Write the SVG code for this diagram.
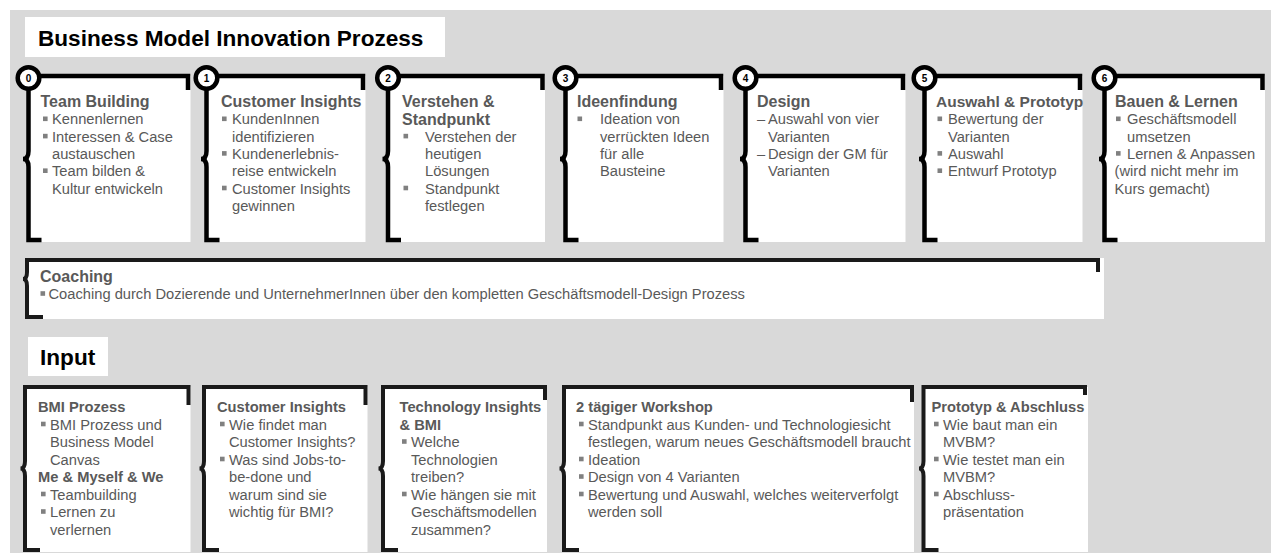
<svg xmlns="http://www.w3.org/2000/svg" width="1271" height="560" viewBox="0 0 1271 560">
<style>
.bg{fill:#d9d9d9}
.card{fill:#ffffff}
.frame{fill:none;stroke:#000;stroke-width:4.5;stroke-linejoin:miter;stroke-linecap:butt}
.frame2{fill:none;stroke:#1a1a1a;stroke-width:4;stroke-linejoin:miter;stroke-linecap:butt}
.ring{fill:#fff;stroke:#000;stroke-width:4.5}
.num{font-family:"Liberation Sans",Arial,sans-serif;font-weight:bold;font-size:10px;fill:#000;text-anchor:middle}
.big{font-family:"Liberation Sans",Arial,sans-serif;font-weight:bold;font-size:22.6px;fill:#000}
.h{font-family:"Liberation Sans",Arial,sans-serif;font-weight:bold;font-size:16px;fill:#595959}
.h2{font-family:"Liberation Sans",Arial,sans-serif;font-weight:bold;font-size:14.7px;fill:#595959}
.b{font-family:"Liberation Sans",Arial,sans-serif;font-size:14.7px;fill:#595959}
.bul{fill:#808080}
</style>
<rect class="bg" x="10" y="10" width="1261" height="543"/>
<g id="title">
<rect class="card" x="25" y="17" width="420" height="40"/>
<text class="big" x="38" y="46">Business Model Innovation Prozess</text>
</g>
<g id="connectors"></g>

<g id="step0">
<rect class="card" x="28.5" y="76" width="162" height="166"/>
<path class="frame" d="M41.5 240 H28.5 V167 Q28.5 159 23 159 Q28.5 159 28.5 151 V76 H188 V90"/>
<circle class="ring" cx="28.5" cy="78" r="10.8"/>
<text class="num" x="28.5" y="81.5">0</text>
<text class="h" x="40.5" y="107">Team Building</text>
<rect class="bul" x="43" y="116.5" width="4.6" height="4.6"/><text class="b" x="52" y="124.3">Kennenlernen</text>
<rect class="bul" x="43" y="133.8" width="4.6" height="4.6"/><text class="b" x="52" y="141.6">Interessen &amp; Case</text>
<text class="b" x="52" y="158.9">austauschen</text>
<rect class="bul" x="43" y="168.4" width="4.6" height="4.6"/><text class="b" x="52" y="176.2">Team bilden &amp;</text>
<text class="b" x="52" y="193.5">Kultur entwickeln</text>
</g>

<g id="step1">
<rect class="card" x="206.5" y="76" width="159" height="166"/>
<path class="frame" d="M219.5 240 H206.5 V167 Q206.5 159 201 159 Q206.5 159 206.5 151 V76 H363 V90"/>
<circle class="ring" cx="206.5" cy="78" r="10.8"/>
<text class="num" x="206.5" y="81.5">1</text>
<text class="h" x="221" y="107">Customer Insights</text>
<rect class="bul" x="222" y="116.5" width="4.6" height="4.6"/><text class="b" x="232" y="124.3">KundenInnen</text>
<text class="b" x="232" y="141.6">identifizieren</text>
<rect class="bul" x="222" y="151.1" width="4.6" height="4.6"/><text class="b" x="232" y="158.9">Kundenerlebnis-</text>
<text class="b" x="232" y="176.2">reise entwickeln</text>
<rect class="bul" x="222" y="185.7" width="4.6" height="4.6"/><text class="b" x="232" y="193.5">Customer Insights</text>
<text class="b" x="232" y="210.8">gewinnen</text>
</g>

<g id="step2">
<rect class="card" x="388" y="76" width="157" height="166"/>
<path class="frame" d="M401 240 H388 V167 Q388 159 382.5 159 Q388 159 388 151 V76 H542.5 V90"/>
<circle class="ring" cx="388" cy="78" r="10.8"/>
<text class="num" x="388" y="81.5">2</text>
<text class="h" x="402" y="107">Verstehen &amp;</text>
<text class="h" x="402" y="124.8">Standpunkt</text>
<rect class="bul" x="403.5" y="133.8" width="4.6" height="4.6"/><text class="b" x="425" y="141.6">Verstehen der</text>
<text class="b" x="425" y="158.9">heutigen</text>
<text class="b" x="425" y="176.2">Lösungen</text>
<rect class="bul" x="403.5" y="185.7" width="4.6" height="4.6"/><text class="b" x="425" y="193.5">Standpunkt</text>
<text class="b" x="425" y="210.8">festlegen</text>
</g>

<g id="step3">
<rect class="card" x="565.5" y="76" width="158" height="166"/>
<path class="frame" d="M578.5 240 H565.5 V167 Q565.5 159 560 159 Q565.5 159 565.5 151 V76 H721 V90"/>
<circle class="ring" cx="565.5" cy="78" r="10.8"/>
<text class="num" x="565.5" y="81.5">3</text>
<text class="h" x="577" y="107">Ideenfindung</text>
<rect class="bul" x="577.5" y="116.5" width="4.6" height="4.6"/><text class="b" x="600" y="124.3">Ideation von</text>
<text class="b" x="600" y="141.6">verrückten Ideen</text>
<text class="b" x="600" y="158.9">für alle</text>
<text class="b" x="600" y="176.2">Bausteine</text>
</g>

<g id="step4">
<rect class="card" x="745.5" y="76" width="160" height="166"/>
<path class="frame" d="M758.5 240 H745.5 V167 Q745.5 159 740 159 Q745.5 159 745.5 151 V76 H903 V90"/>
<circle class="ring" cx="745.5" cy="78" r="10.8"/>
<text class="num" x="745.5" y="81.5">4</text>
<text class="h" x="757" y="107">Design</text>
<text class="b" x="757" y="124.3">–</text><text class="b" x="768" y="124.3">Auswahl von vier</text>
<text class="b" x="768" y="141.6">Varianten</text>
<text class="b" x="757" y="158.9">–</text><text class="b" x="768" y="158.9">Design der GM für</text>
<text class="b" x="768" y="176.2">Varianten</text>
</g>

<g id="step5">
<rect class="card" x="924.5" y="76" width="158" height="166"/>
<path class="frame" d="M937.5 240 H924.5 V167 Q924.5 159 919 159 Q924.5 159 924.5 151 V76 H1080 V90"/>
<circle class="ring" cx="924.5" cy="78" r="10.8"/>
<text class="num" x="924.5" y="81.5">5</text>
<text class="h" x="936" y="107" style="font-size:15.5px">Auswahl &amp; Prototyp</text>
<rect class="bul" x="937.5" y="116.5" width="4.6" height="4.6"/><text class="b" x="948" y="124.3">Bewertung der</text>
<text class="b" x="948" y="141.6">Varianten</text>
<rect class="bul" x="937.5" y="151.1" width="4.6" height="4.6"/><text class="b" x="948" y="158.9">Auswahl</text>
<rect class="bul" x="937.5" y="168.4" width="4.6" height="4.6"/><text class="b" x="948" y="176.2">Entwurf Prototyp</text>
</g>

<g id="step6">
<rect class="card" x="1104.5" y="76" width="160.5" height="166"/>
<path class="frame" d="M1117.5 240 H1104.5 V167 Q1104.5 159 1099 159 Q1104.5 159 1104.5 151 V76 H1262.5 V90"/>
<circle class="ring" cx="1104.5" cy="78" r="10.8"/>
<text class="num" x="1104.5" y="81.5">6</text>
<text class="h" x="1115" y="107">Bauen &amp; Lernen</text>
<rect class="bul" x="1116" y="116.5" width="4.6" height="4.6"/><text class="b" x="1127" y="124.3">Geschäftsmodell</text>
<text class="b" x="1127" y="141.6">umsetzen</text>
<rect class="bul" x="1116" y="151.1" width="4.6" height="4.6"/><text class="b" x="1127" y="158.9">Lernen &amp; Anpassen</text>
<text class="b" x="1114.5" y="176.2">(wird nicht mehr im</text>
<text class="b" x="1114.5" y="193.5">Kurs gemacht)</text>
</g>

<g id="coaching">
<rect class="card" x="25" y="258" width="1079" height="61"/>
<path class="frame2" d="M43 317 H27 V286 Q27 279 23 279 Q27 279 27 272 V260 H1098 V272"/>
<text class="h" x="40" y="282">Coaching</text>
<rect class="bul" x="40.5" y="291.2" width="4.6" height="4.6"/><text class="b" x="48.5" y="299">Coaching durch Dozierende und UnternehmerInnen über den kompletten Geschäftsmodell-Design Prozess</text>
</g>

<g id="input-title">
<rect class="card" x="28" y="337" width="80" height="39"/>
<text class="big" x="40" y="365">Input</text>
</g>

<g id="inputA">
<rect class="card" x="25" y="387" width="165.5" height="165"/>
<path class="frame2" d="M40 550 H25 V476 Q25 468.5 20.5 468.5 Q25 468.5 25 461 V387 H188.5 V405"/>
<text class="h2" x="38" y="412">BMI Prozess</text>
<rect class="bul" x="41" y="421.7" width="4.6" height="4.6"/><text class="b" x="50" y="429.5">BMI Prozess und</text>
<text class="b" x="50" y="447">Business Model</text>
<text class="b" x="50" y="464.5">Canvas</text>
<text class="h2" x="38" y="482">Me &amp; Myself &amp; We</text>
<rect class="bul" x="41" y="491.7" width="4.6" height="4.6"/><text class="b" x="50" y="499.5">Teambuilding</text>
<rect class="bul" x="41" y="509.2" width="4.6" height="4.6"/><text class="b" x="50" y="517">Lernen zu</text>
<text class="b" x="50" y="534.5">verlernen</text>
</g>

<g id="inputB">
<rect class="card" x="204" y="387" width="163.5" height="165"/>
<path class="frame2" d="M219 550 H204 V476 Q204 468.5 199.5 468.5 Q204 468.5 204 461 V387 H365.5 V405"/>
<text class="h2" x="217" y="412">Customer Insights</text>
<rect class="bul" x="220" y="421.7" width="4.6" height="4.6"/><text class="b" x="229" y="429.5">Wie findet man</text>
<text class="b" x="229" y="447">Customer Insights?</text>
<rect class="bul" x="220" y="456.7" width="4.6" height="4.6"/><text class="b" x="229" y="464.5">Was sind Jobs-to-</text>
<text class="b" x="229" y="482">be-done und</text>
<text class="b" x="229" y="499.5">warum sind sie</text>
<text class="b" x="229" y="517">wichtig für BMI?</text>
</g>

<g id="inputC">
<rect class="card" x="383" y="387" width="164" height="165"/>
<path class="frame2" d="M398 550 H383 V476 Q383 468.5 378.5 468.5 Q383 468.5 383 461 V387 H545 V400"/>
<text class="h2" x="399.5" y="412">Technology Insights</text>
<text class="h2" x="399.5" y="429.5">&amp; BMI</text>
<rect class="bul" x="402" y="439.2" width="4.6" height="4.6"/><text class="b" x="411" y="447">Welche</text>
<text class="b" x="411" y="464.5">Technologien</text>
<text class="b" x="411" y="482">treiben?</text>
<rect class="bul" x="402" y="491.7" width="4.6" height="4.6"/><text class="b" x="411" y="499.5">Wie hängen sie mit</text>
<text class="b" x="411" y="517">Geschäftsmodellen</text>
<text class="b" x="411" y="534.5">zusammen?</text>
</g>

<g id="inputD">
<rect class="card" x="564" y="387" width="350" height="165"/>
<path class="frame2" d="M579 550 H564 V476 Q564 468.5 559.5 468.5 Q564 468.5 564 461 V387 H912 V402"/>
<text class="h2" x="576" y="412">2 tägiger Workshop</text>
<rect class="bul" x="579" y="421.7" width="4.6" height="4.6"/><text class="b" x="588" y="429.5">Standpunkt aus Kunden- und Technologiesicht</text>
<text class="b" x="588" y="447">festlegen, warum neues Geschäftsmodell braucht</text>
<rect class="bul" x="579" y="456.7" width="4.6" height="4.6"/><text class="b" x="588" y="464.5">Ideation</text>
<rect class="bul" x="579" y="474.2" width="4.6" height="4.6"/><text class="b" x="588" y="482">Design von 4 Varianten</text>
<rect class="bul" x="579" y="491.7" width="4.6" height="4.6"/><text class="b" x="588" y="499.5">Bewertung und Auswahl, welches weiterverfolgt</text>
<text class="b" x="588" y="517">werden soll</text>
</g>

<g id="inputE">
<rect class="card" x="923.5" y="387" width="164.5" height="165"/>
<path class="frame2" d="M938.5 550 H923.5 V476 Q923.5 468.5 919 468.5 Q923.5 468.5 923.5 461 V387 H1085 V395"/>
<text class="h2" x="931.5" y="412">Prototyp &amp; Abschluss</text>
<rect class="bul" x="934" y="421.7" width="4.6" height="4.6"/><text class="b" x="943" y="429.5">Wie baut man ein</text>
<text class="b" x="943" y="447">MVBM?</text>
<rect class="bul" x="934" y="456.7" width="4.6" height="4.6"/><text class="b" x="943" y="464.5">Wie testet man ein</text>
<text class="b" x="943" y="482">MVBM?</text>
<rect class="bul" x="934" y="491.7" width="4.6" height="4.6"/><text class="b" x="943" y="499.5">Abschluss-</text>
<text class="b" x="943" y="517">präsentation</text>
</g>
</svg>
